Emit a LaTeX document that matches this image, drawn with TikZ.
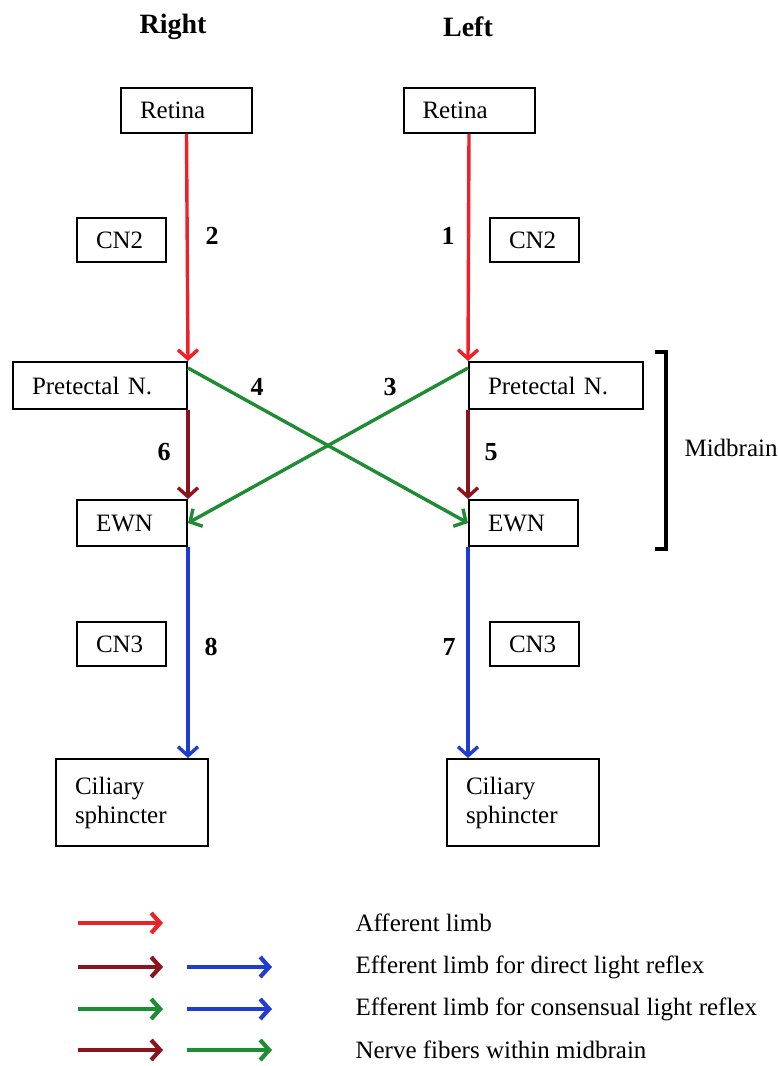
\documentclass[tikz,border=0pt]{standalone}
\usepackage{fontspec}
\setmainfont{Liberation Serif}
\usetikzlibrary{arrows.meta}
\definecolor{affred}{RGB}{238,32,40}
\definecolor{drkred}{RGB}{140,20,28}
\definecolor{efgreen}{RGB}{30,140,50}
\definecolor{efblue}{RGB}{30,60,210}
\begin{document}
\begin{tikzpicture}[x=1pt,y=1pt,
  box/.style={draw, line width=2pt, inner xsep=19pt, inner ysep=0pt, align=left, font=\fontsize{25}{29}\selectfont},
  num/.style={font=\fontsize{26}{30}\selectfont\bfseries},
  head/.style={font=\fontsize{28}{32}\selectfont\bfseries},
  lbl/.style={font=\fontsize{25}{29}\selectfont},
  arr/.style={line width=3.4pt, -{Straight Barb[length=9pt,width=20pt]}},
  larr/.style={line width=4.2pt, -{Straight Barb[length=9pt,width=20pt]}}
]
\useasboundingbox (0,0) rectangle (778,-1066);
% headings
\node[head] (hR) at (173,-27) {Right};
\node[head] (hL) at (468,-27) {Left};
% boxes
\node[box, text width=93pt, minimum height=45pt] (retR) at (186.5,-110.5) {Retina};
\node[box, text width=93pt, minimum height=45pt] (retL) at (469,-110.5) {Retina};
\node[box, text width=51pt, minimum height=44pt] (cn2R) at (121.5,-240) {CN2};
\node[box, text width=51pt, minimum height=44pt] (cn2L) at (534.5,-240) {CN2};
\node[box, text width=136pt, minimum height=47pt] (preR) at (100,-385.5) {Pretectal N.};
\node[box, text width=136pt, minimum height=47pt] (preL) at (556,-385.5) {Pretectal N.};
\node[box, text width=72pt, minimum height=46pt] (ewnR) at (132,-523) {EWN};
\node[box, text width=71pt, minimum height=46pt] (ewnL) at (523.5,-523) {EWN};
\node[box, text width=51pt, minimum height=44pt] (cn3R) at (121.5,-644) {CN3};
\node[box, text width=51pt, minimum height=44pt] (cn3L) at (534.5,-644) {CN3};
\node[box, text width=114pt, minimum height=87pt] (cilR) at (132,-802.5) {Ciliary\\sphincter};
\node[box, text width=114pt, minimum height=87pt] (cilL) at (523,-802.5) {Ciliary\\sphincter};
% numbers
\node[num] (n2) at (212,-236) {2};
\node[num] (n1) at (448,-236) {1};
\node[num] (n4) at (257,-387) {4};
\node[num] (n3) at (390,-387) {3};
\node[num] (n6) at (164,-452) {6};
\node[num] (n5) at (491,-452) {5};
\node[num] (n8) at (211,-647) {8};
\node[num] (n7) at (449,-647) {7};
% afferent
\draw[arr, affred] (retR.south) -- (preR.north east);
\draw[arr, affred] (retL.south) -- (preL.north west);
% within midbrain
\draw[arr, drkred] (preR.south east) -- (ewnR.north east);
\draw[arr, drkred] (preL.south west) -- (ewnL.north west);
% crossing
\draw[arr, efgreen] ([yshift=-7pt]preR.north east) -- (ewnL.west);
\draw[arr, efgreen] ([yshift=-7pt]preL.north west) -- (ewnR.east);
% efferent
\draw[arr, efblue] (ewnR.south east) -- (ewnR.south east |- cilR.north);
\draw[arr, efblue] (ewnL.south west) -- (ewnL.south west |- cilL.north);
% midbrain bracket
\coordinate (bt) at (655,-352);
\coordinate (bb) at (655,-549);
\draw[line width=3.2pt] (bt) -- ++(11,0) |- (bb);
\node[lbl, anchor=west] (mid) at (681,-448) {Midbrain};
% legend
\coordinate (a1s) at (78,-923);  \coordinate (a1e) at (163,-923);
\coordinate (a2s) at (78,-967);  \coordinate (a2e) at (163,-967);
\coordinate (b2s) at (187,-967); \coordinate (b2e) at (272,-967);
\coordinate (a3s) at (78,-1009); \coordinate (a3e) at (163,-1009);
\coordinate (b3s) at (187,-1009);\coordinate (b3e) at (272,-1009);
\coordinate (a4s) at (78,-1050); \coordinate (a4e) at (163,-1050);
\coordinate (b4s) at (187,-1050);\coordinate (b4e) at (272,-1050);
\draw[larr, affred] (a1s) -- (a1e);
\draw[larr, drkred] (a2s) -- (a2e);
\draw[larr, efblue] (b2s) -- (b2e);
\draw[larr, efgreen] (a3s) -- (a3e);
\draw[larr, efblue] (b3s) -- (b3e);
\draw[larr, drkred] (a4s) -- (a4e);
\draw[larr, efgreen] (b4s) -- (b4e);
\node[lbl, anchor=west] (t1) at (352,-923) {Afferent limb};
\node[lbl, anchor=west] (t2) at (352,-967) {Efferent limb for direct light reflex};
\node[lbl, anchor=west] (t3) at (352,-1009) {Efferent limb for consensual light reflex};
\node[lbl, anchor=west] (t4) at (352,-1050) {Nerve fibers within midbrain};
\end{tikzpicture}
\end{document}
